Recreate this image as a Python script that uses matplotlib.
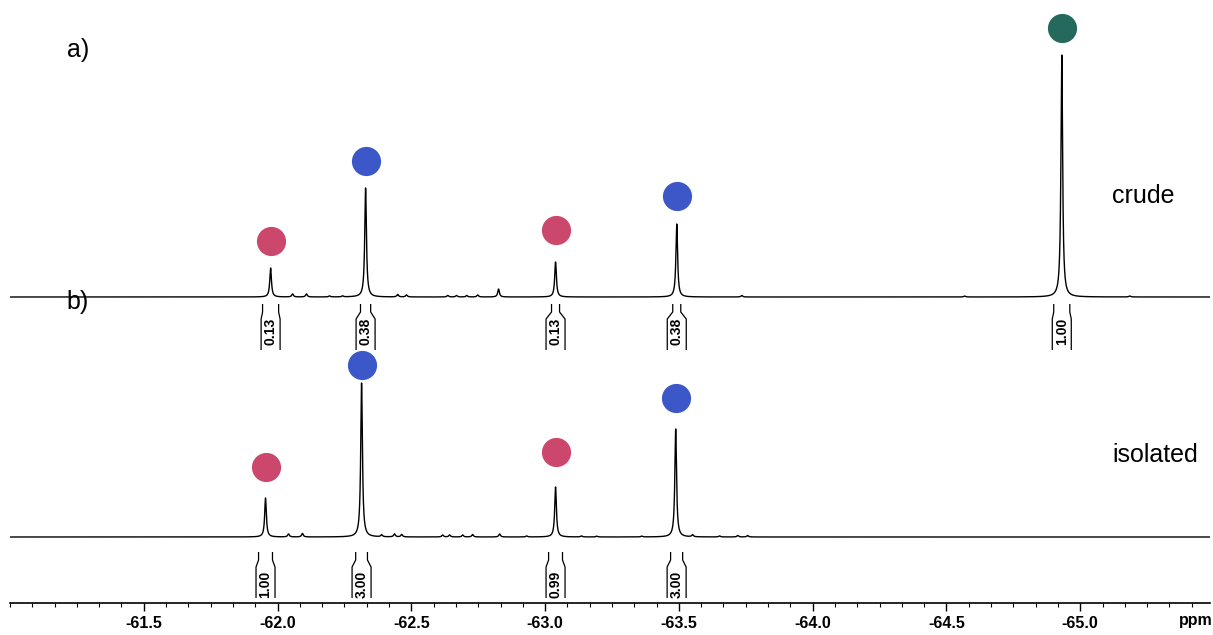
import numpy as np
import matplotlib
matplotlib.use("Agg")
import matplotlib.pyplot as plt
from matplotlib.ticker import MultipleLocator, FormatStrFormatter

plt.rcParams['font.family'] = ['Liberation Sans', 'DejaVu Sans']

# --- 19F NMR data (ppm, relative intensity) ---------------------------------
# a) crude mixture
crude_ppm = [-61.974, -62.329, -63.039, -63.492, -64.931]
crude_int = [29, 109, 35, 73, 242]
crude_kind = ['red', 'blue', 'red', 'blue', 'green']
crude_minor_ppm = [-62.056, -62.108, -62.194, -62.243, -62.449, -62.482, -62.636,
                   -62.669, -62.707, -62.748, -62.826, -63.735, -64.568, -65.185]
crude_minor_int = [3, 3, 1, 1, 2.5, 2, 1.5, 1.5, 1.5, 2, 8, 1.5, 1, 1]
crude_integ_ranges = [(-61.944, -62.004), (-62.310, -62.348), (-63.024, -63.054),
                      (-63.477, -63.507), (-64.901, -64.961)]
crude_integ_vals = ['0.13', '0.38', '0.13', '0.38', '1.00']
crude_marker_gap = [27, 27, 32, 28, 27]

# b) isolated product
iso_ppm = [-61.955, -62.314, -63.039, -63.488]
iso_int = [39, 154, 50, 108]
iso_kind = ['red', 'blue', 'red', 'blue']
iso_minor_ppm = [-62.041, -62.093, -62.389, -62.437, -62.464, -62.617, -62.643,
                 -62.692, -62.729, -62.830, -62.931, -63.136, -63.193, -63.361,
                 -63.551, -63.652, -63.720, -63.757]
iso_minor_int = [3, 3.5, 2, 3, 2.5, 2, 2, 2, 2.5, 3, 1, 1, 0.8, 0.8, 2, 1, 1.5, 1.5]
iso_integ_ranges = [(-61.929, -61.981), (-62.292, -62.336), (-63.013, -63.065),
                    (-63.469, -63.514)]
iso_integ_vals = ['1.00', '3.00', '0.99', '3.00']
iso_marker_gap = [31, 18, 35, 31]

tick_values = [-61.5, -62.0, -62.5, -63.0, -63.5, -64.0, -64.5, -65.0]

colors = {'red': '#CB476B', 'blue': '#3B57C8', 'green': '#25695C'}

# --- figure layout ----------------------------------------------------------
W, H = 1213, 635
fig = plt.figure(figsize=(W / 100, H / 100), dpi=100)
ax = fig.add_axes([10 / W, 32 / H, 1200 / W, 603 / H])
x_left, x_right = -61.0, -65.485
ax.set_xlim(x_left, x_right)
ax.set_ylim(0, 603)
ppm_per_px = abs(x_right - x_left) / 1200.0

top_base = 306
bot_base = 66
gamma = 1.0 * ppm_per_px

x = np.linspace(x_left, x_right, 80000)


def spectrum(centers, heights):
    y = np.zeros_like(x)
    for c, h in zip(centers, heights):
        y += h * gamma ** 2 / ((x - c) ** 2 + gamma ** 2)
    return y


y_top = spectrum(crude_ppm + crude_minor_ppm, crude_int + crude_minor_int)
y_bot = spectrum(iso_ppm + iso_minor_ppm, iso_int + iso_minor_int)
ax.plot(x, y_top + top_base, color='black', lw=1.0)
ax.plot(x, y_bot + bot_base, color='black', lw=1.0)

# peak assignment markers
for p, h, k, g in zip(crude_ppm, crude_int, crude_kind, crude_marker_gap):
    ax.plot(p, top_base + h + g, 'o', ms=21, color=colors[k], mec='none')
for p, h, k, g in zip(iso_ppm, iso_int, iso_kind, iso_marker_gap):
    ax.plot(p, bot_base + h + g, 'o', ms=21, color=colors[k], mec='none')


# integral brackets
def integral(rng, label, y_top_px, y_text):
    a, b = rng
    c = 0.5 * (a + b)
    half_n = abs(a - b) / 2
    half_w = 9.5 * ppm_per_px
    y0 = y_top_px
    y1 = y0 - 8
    y2 = y0 - 15
    y3 = y0 - 46
    for s in (-1, 1):
        ax.plot([c + s * half_n, c + s * half_n, c + s * half_w, c + s * half_w],
                [y0, y1, y2, y3], color='black', lw=0.9, solid_capstyle='butt')
    ax.text(c, y_text, label, rotation=90, ha='center', va='center',
            fontsize=10, fontweight='bold')


for r, v in zip(crude_integ_ranges, crude_integ_vals):
    integral(r, v, 299, 272)
for r, v in zip(iso_integ_ranges, iso_integ_vals):
    integral(r, v, 51, 19)

# labels
ax.text(x_left - 68 * ppm_per_px, 553, 'a)', fontsize=18, ha='center', va='center')
ax.text(x_left - 68 * ppm_per_px, 301, 'b)', fontsize=18, ha='center', va='center')
ax.text(x_left - 1133 * ppm_per_px, 407, 'crude', fontsize=18, ha='center', va='center')
ax.text(x_left - 1145 * ppm_per_px, 148, 'isolated', fontsize=18, ha='center', va='center')

# axis styling
for s in ('top', 'left', 'right'):
    ax.spines[s].set_visible(False)
ax.spines['bottom'].set_linewidth(1.2)
ax.set_yticks([])
ax.set_xticks(tick_values)
ax.xaxis.set_major_formatter(FormatStrFormatter('%.1f'))
ax.xaxis.set_minor_locator(MultipleLocator(0.5 / 6))
ax.tick_params(axis='x', which='major', direction='out', length=6, width=1.0,
               labelsize=11.5, pad=3)
ax.tick_params(axis='x', which='minor', direction='out', length=3, width=0.8)
for lbl in ax.get_xticklabels():
    lbl.set_fontweight('bold')
fig.text(1196 / W, 1 - 620 / H, 'ppm', fontsize=11.5, fontweight='bold',
         ha='center', va='center')

fig.savefig('out.png', dpi=100)
